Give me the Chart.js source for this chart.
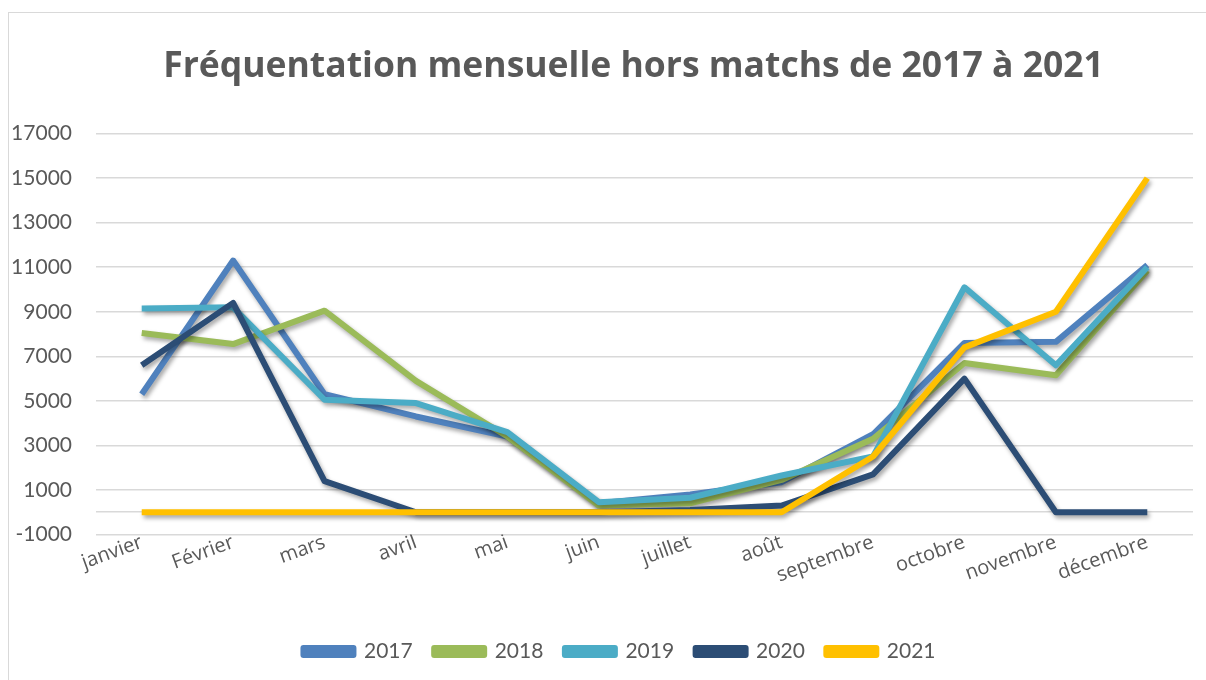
<!DOCTYPE html>
<html lang="fr">
<head>
  <meta charset="UTF-8">
  <title>Fréquentation mensuelle hors matchs</title>
  <script src="https://cdn.jsdelivr.net/npm/chart.js"></script>
  <style>
    body {
      margin: 0;
      background: white;
      width: 1206px;
      height: 680px;
      overflow: hidden;
      position: relative;
    }
    #frame {
      position: absolute;
      left: 8px;
      top: 12px;
      width: 1220px;
      height: 700px;
      border: 1.5px solid #d9d9d9;
    }
    #chart-container {
      position: absolute;
      left: 0;
      top: 0;
      width: 1206px;
      height: 680px;
    }
  </style>
</head>
<body>
  <div id="frame"></div>
  <div id="chart-container">
    <canvas id="myChart"></canvas>
  </div>

  <script>
    // chart data
    const months = ['janvier', 'Février', 'mars', 'avril', 'mai', 'juin', 'juillet', 'août', 'septembre', 'octobre', 'novembre', 'décembre'];
    const years = ['2017', '2018', '2019', '2020', '2021'];
    const visits2017 = [5300, 11300, 5300, 4300, 3400, 400, 800, 1350, 3500, 7600, 7650, 11100];
    const visits2018 = [8050, 7550, 9050, 5900, 3400, 300, 400, 1450, 3300, 6700, 6150, 10850];
    const visits2019 = [9150, 9200, 5050, 4900, 3600, 450, 650, 1650, 2500, 10100, 6600, 11000];
    const visits2020 = [6600, 9400, 1400, 0, 0, 0, 100, 300, 1700, 6000, 0, 0];
    const visits2021 = [0, 0, 0, 0, 0, 0, 0, 0, 2500, 7400, 9000, 15000];
    const yTicks = [-1000, 1000, 3000, 5000, 7000, 9000, 11000, 13000, 15000, 17000];

    const colors = ['#4f81bd', '#9bbb59', '#4bacc6', '#2c4d75', '#ffc000'];
    const series = [visits2017, visits2018, visits2019, visits2020, visits2021];
    const textColor = '#595959';
    const fontFamily = 'Lato, "Open Sans", sans-serif';

    // soft drop shadow under every line, like the office chart
    const shadowPlugin = {
      id: 'lineShadow',
      beforeDatasetDraw(chart) {
        const ctx = chart.ctx;
        ctx.save();
        ctx.shadowColor = 'rgba(0, 0, 0, 0.35)';
        ctx.shadowBlur = 4;
        ctx.shadowOffsetX = 2;
        ctx.shadowOffsetY = 3;
      },
      afterDatasetDraw(chart) {
        chart.ctx.restore();
      }
    };

    // title and legend are not centred on the canvas in the original
    const boxShift = {
      id: 'boxShift',
      afterLayout(chart) {
        const t = chart.titleBlock;
        if (t) { t.left += 31; t.right += 31; }
        const l = chart.legend;
        if (l) { l.left += 17; l.right += 17; }
      }
    };

    const datasets = years.map((y, i) => ({
      label: y,
      data: series[i],
      borderColor: colors[i],
      backgroundColor: colors[i],
      borderWidth: 6,
      pointRadius: 0,
      tension: 0,
      fill: false,
      borderJoinStyle: 'round',
      order: years.length - i   // later years drawn on top
    }));

    const ctx = document.getElementById('myChart').getContext('2d');
    const myChart = new Chart(ctx, {
      type: 'line',
      data: {
        labels: months,
        datasets: datasets
      },
      plugins: [shadowPlugin, boxShift],
      options: {
        responsive: true,
        maintainAspectRatio: false,
        animation: false,
        layout: {
          padding: { left: 12, right: 13, top: 0, bottom: 8 }
        },
        plugins: {
          title: {
            display: true,
            text: 'Fréquentation mensuelle hors matchs de 2017 à 2021',
            color: textColor,
            font: { family: '"Open Sans", sans-serif', size: 35.5, weight: 'bold' },
            padding: { top: 46, bottom: 45 }
          },
          legend: {
            position: 'bottom',
            labels: {
              color: textColor,
              font: { family: fontFamily, size: 21 },
              boxWidth: 50,
              boxHeight: 7,
              padding: 21.5,
              sort: (a, b) => a.datasetIndex - b.datasetIndex
            }
          },
          tooltip: { enabled: false }
        },
        scales: {
          x: {
            offset: true,
            grid: { display: false, drawTicks: false },
            border: { display: false },
            ticks: {
              color: textColor,
              font: { family: '"Open Sans", sans-serif', size: 20 },
              minRotation: 20,
              maxRotation: 20,
              padding: -4
            },
            afterFit(scale) { scale.height = 85; }
          },
          y: {
            min: -1000,
            max: 17000,
            grid: { color: '#d9d9d9', lineWidth: 1.5, drawTicks: false },
            border: { display: false },
            afterBuildTicks(scale) {
              scale.ticks = yTicks.concat([0]).sort((a, b) => a - b).map(v => ({ value: v }));
            },
            ticks: {
              color: textColor,
              font: { family: fontFamily, size: 21 },
              padding: 24,
              callback: v => (v === 0 ? '' : v)
            },
            afterFit(scale) { scale.width = 84; }
          }
        }
      }
    });
  </script>
</body>
</html>
